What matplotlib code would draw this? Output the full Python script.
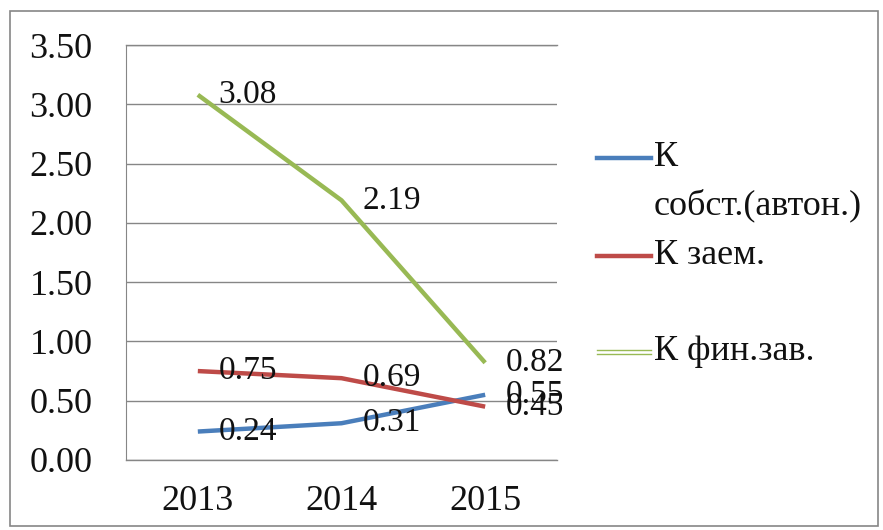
import matplotlib.pyplot as plt
from matplotlib.lines import Line2D
from matplotlib.patches import Rectangle

plt.rcParams['font.family'] = ['Liberation Serif', 'DejaVu Serif']

years = ['2013', '2014', '2015']
k_sobst = [0.24, 0.31, 0.55]
k_zaem = [0.75, 0.69, 0.45]
k_fin = [3.08, 2.19, 0.82]
series_names = ['К\nсобст.(автон.)', 'К заем.', 'К фин.зав.']
colors = ['#4A7EBB', '#BE4B48', '#98B954']

W, H = 883, 530
fig = plt.figure(figsize=(W / 100, H / 100), dpi=100)
ax = fig.add_axes([126 / W, 1 - 460 / H, (557 - 126) / W, (460 - 45) / H])

x = list(range(len(years)))
for vals, c in zip([k_sobst, k_zaem, k_fin], colors):
    ax.plot(x, vals, color=c, lw=3.2, solid_capstyle='butt', zorder=3)
    for xi, v in zip(x, vals):
        ax.text(xi + 0.145, v, f'{v:.2f}', fontsize=24, ha='left', va='center',
                color='#111111', zorder=4)

ax.set_xlim(-0.5, 2.5)
ax.set_ylim(0, 3.5)
ax.set_yticks([i * 0.5 for i in range(8)])
ax.set_yticklabels([f'{i * 0.5:.2f}' for i in range(8)])
ax.set_xticks(x)
ax.set_xticklabels(years)
ax.tick_params(axis='both', length=0, labelsize=26, colors='#111111')
ax.tick_params(axis='y', pad=24)
ax.tick_params(axis='x', pad=18)
ax.grid(axis='y', color='#868686', lw=1)
for yv in (0, 3.5):
    ax.axhline(yv, color='#868686', lw=1, clip_on=False, zorder=1)
for s in ['top', 'right', 'bottom']:
    ax.spines[s].set_visible(False)
ax.spines['left'].set_color('#868686')
ax.set_axisbelow(True)

# legend drawn by hand
def fy(py):
    return 1 - py / H

lx0, lx1 = 597 / W, 651 / W
fs_leg = 26
fig.add_artist(Line2D([lx0, lx1], [fy(158), fy(158)], color=colors[0], lw=3.2,
                      transform=fig.transFigure))
fig.text(654 / W, fy(158), 'К', fontsize=fs_leg, va='center', ha='left', color='#111111')
fig.text(654 / W, fy(205), 'собст.(автон.)', fontsize=fs_leg, va='center', ha='left',
         color='#111111')
fig.add_artist(Line2D([lx0, lx1], [fy(256), fy(256)], color=colors[1], lw=3.2,
                      transform=fig.transFigure))
fig.text(654 / W, fy(256), series_names[1], fontsize=fs_leg, va='center', ha='left',
         color='#111111')
for dy in (-1.6, 1.6):
    fig.add_artist(Line2D([lx0, lx1], [fy(352 + dy), fy(352 + dy)], color=colors[2],
                          lw=1.0, transform=fig.transFigure))
fig.text(654 / W, fy(352), series_names[2], fontsize=fs_leg, va='center', ha='left',
         color='#111111')

fig.add_artist(Rectangle((10 / W, fy(526)), (878 - 10) / W, (526 - 11) / H,
                         fill=False, edgecolor='#868686', lw=1.2,
                         transform=fig.transFigure))

fig.savefig('out.png', dpi=100, facecolor='white')
